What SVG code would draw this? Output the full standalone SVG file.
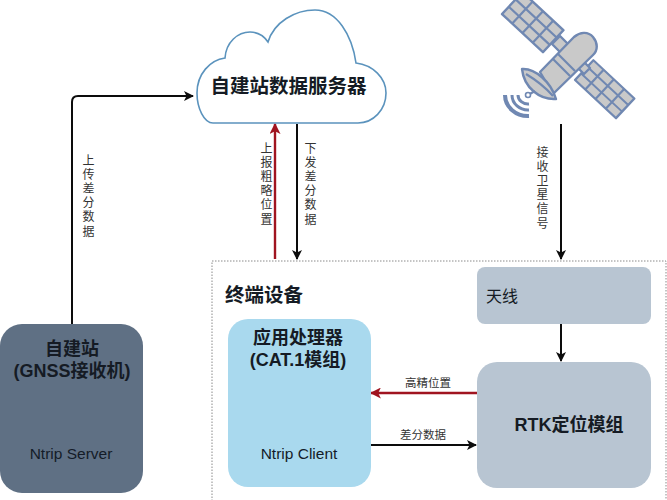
<svg xmlns="http://www.w3.org/2000/svg" xmlns:xlink="http://www.w3.org/1999/xlink" width="667" height="500" viewBox="0 0 667 500">
<style>
text{font-family:"Liberation Sans","Noto Sans CJK SC",sans-serif;fill:#151b24}
.t{font-weight:700;text-anchor:middle}
.h{font-size:18px}
.c{font-size:15.500px;text-anchor:middle;fill:#141c28}
.l{font-size:11.500px;text-anchor:middle;fill:#333}
.v{font-size:12px;writing-mode:vertical-rl;letter-spacing:2.200px;fill:#333}
.k{fill:none;stroke:#0c0c0c;stroke-width:2}
.r{fill:none;stroke:#a01420;stroke-width:2.400}
.s{fill:#c9c9c9;stroke:#7088b2;stroke-width:2.400;stroke-linejoin:round}
.g{fill:none;stroke:#7088b2;stroke-width:2.200}
</style>
<defs>
<marker id="ak" viewBox="0 0 10 10" refX="9" refY="5" markerWidth="10" markerHeight="10" markerUnits="userSpaceOnUse" orient="auto"><path d="M0,0L10,5L0,10L2.500,5Z" fill="#0c0c0c"/></marker>
<marker id="ar" viewBox="0 0 10 10" refX="9" refY="5" markerWidth="11" markerHeight="11" markerUnits="userSpaceOnUse" orient="auto"><path d="M0,0L10,5L0,10L2.500,5Z" fill="#a01420"/></marker>
<g id="panel">
<rect width="56" height="30" class="s"/>
<path class="g" d="M14,0V30M28,0V30M42,0V30M0,10H56M0,20H56"/>
</g>
</defs>
<rect width="667" height="500" fill="#fff"/>
<rect id="frame" x="212" y="261" width="454" height="245" fill="none" stroke="#8a8a8a" stroke-width="1" stroke-dasharray="1.500 1.500"/>
<g id="connectors">
<path class="k" marker-end="url(#ak)" d="M72,324V102Q72,96 78,96H193"/>
<path class="r" marker-end="url(#ar)" d="M275,259V124"/>
<path class="k" marker-end="url(#ak)" d="M297,124V259"/>
<path class="k" marker-end="url(#ak)" d="M561,124V259"/>
<path class="k" marker-end="url(#ak)" d="M561,324V361"/>
<path class="r" marker-end="url(#ar)" d="M477,393H371"/>
<path class="k" marker-end="url(#ak)" d="M371,445H476"/>
<text class="v" x="87" y="154">上传差分数据</text>
<text class="v" x="265" y="142">上报粗略位置</text>
<text class="v" x="309" y="142">下发差分数据</text>
<text class="v" x="541" y="146">接收卫星信号</text>
<text class="l" x="428" y="387">高精位置</text>
<text class="l" x="423" y="439">差分数据</text>
</g>
<g id="cloud">
<path d="M225,58C226,42 238,32 250,32C258,32 264,36 268,42C274,22 295,10 315,10C337,10 352,35 356,63C373,65 386,78 386,93C386,110 373,123 358,123H213C204,123 197,108 197,93C197,74 210,60 225,58Z" fill="#fff" stroke="#5b93bd" stroke-width="1.600"/>
<text class="t" x="288.500" y="93" font-size="19.500">自建站数据服务器</text>
</g>
<g id="satellite">
<use xlink:href="#panel" href="#panel" transform="translate(502,14) rotate(43) translate(0,-30)"/>
<use xlink:href="#panel" href="#panel" transform="translate(575,80) rotate(43) translate(0,-27) scale(1,0.9)"/>
<path class="s" d="M552,44L560,36L570,46L562,54Z"/>
<path class="s" d="M572,62L578,56L590,68L584,74Z"/>
<path class="s" d="M540,72L574,37C580,32 588,31 593,37C598,43 598,50 593,55L553,94Z"/>
<path class="g" d="M553,59L570,76M558,54L575,71"/>
<path class="s" d="M522,69C535,68 551,82 556,99C540,100 524,88 522,69Z"/>
<path class="g" d="M526,74C536,80 546,88 553,96"/>
<path class="g" d="M535,91L528,95"/>
<circle cx="528" cy="95" r="2.500" fill="#fff" stroke="#7088b2" stroke-width="1.600"/>
<path d="M505,95A23,21 0 0 0 529,116" fill="none" stroke="#7088b2" stroke-width="4"/>
<path d="M512,95A16,15 0 0 0 529,110" fill="none" stroke="#7088b2" stroke-width="3"/>
<path d="M518,95A10,9 0 0 0 529,104" fill="none" stroke="#7088b2" stroke-width="3"/>
</g>
<g id="base-station">
<rect x="0" y="324" width="143" height="169" rx="22" fill="#5f7084"/>
<text class="t h" x="72" y="355">自建站</text>
<text class="t h" x="72" y="377">(GNSS接收机)</text>
<text class="c" x="71" y="459">Ntrip Server</text>
</g>
<g id="terminal-title"><text x="225" y="302" font-size="19.500" font-weight="700">终端设备</text></g>
<g id="app-processor">
<rect x="228" y="319" width="143" height="168" rx="20" fill="#a9d9ee"/>
<text class="t h" x="298" y="344">应用处理器</text>
<text class="t h" x="298" y="366">(CAT.1模组)</text>
<text class="c" x="299" y="459">Ntrip Client</text>
</g>
<g id="antenna">
<rect x="477" y="267" width="174" height="57" rx="8" fill="#b8c5d2"/>
<text x="486" y="302" font-size="16">天线</text>
</g>
<g id="rtk">
<rect x="477" y="362" width="174" height="126" rx="20" fill="#b8c5d2"/>
<text class="t" x="569" y="431" font-size="18">RTK定位模组</text>
</g>
</svg>
